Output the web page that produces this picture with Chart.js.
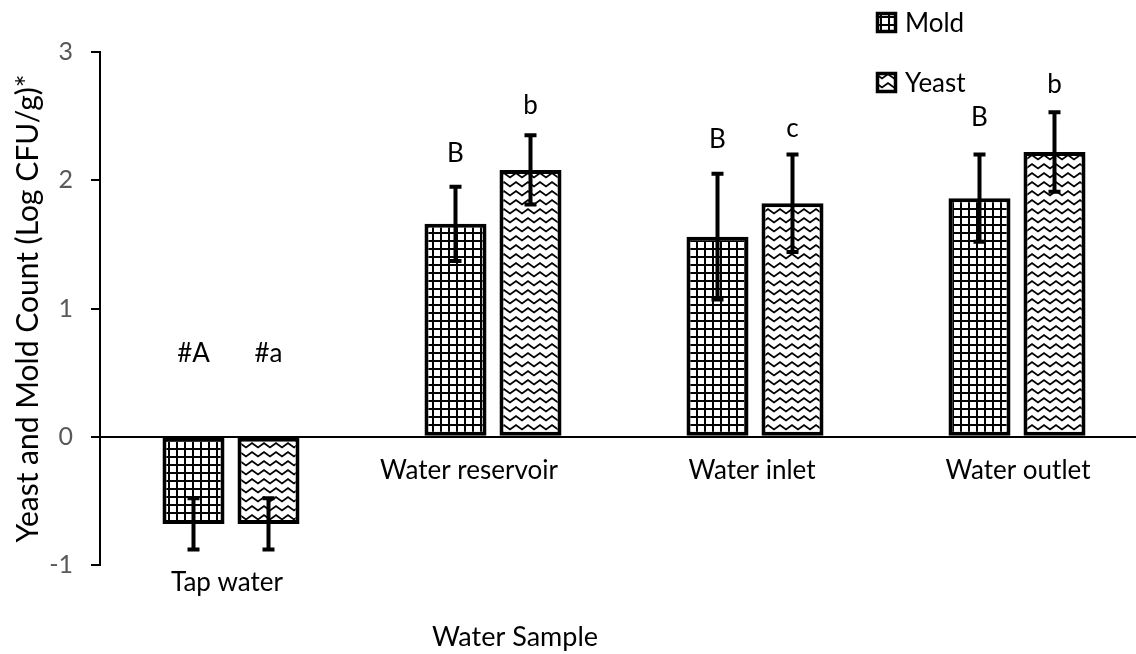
<!DOCTYPE html>
<html><head><meta charset="utf-8">
<script src="https://cdn.jsdelivr.net/npm/chart.js@4/dist/chart.umd.min.js"></script>
<style>html,body{margin:0;padding:0;background:#fff;overflow:hidden;}canvas{display:block;}</style>
</head><body>
<canvas id="c" width="1148" height="654"></canvas>
<script>
// ---- data ----
const categories = ['Tap water', 'Water reservoir', 'Water inlet', 'Water outlet'];
const seriesNames = ['Mold', 'Yeast'];
const moldValues = [-0.68, 1.66, 1.56, 1.86];
const moldErrors = [0.20, 0.29, 0.49, 0.34];
const yeastValues = [-0.68, 2.08, 1.82, 2.22];
const yeastErrors = [0.20, 0.27, 0.38, 0.31];
const moldLetters = ['#A', 'B', 'B', 'B'];
const yeastLetters = ['#a', 'b', 'c', 'b'];
const moldLetterLevels = [0.58, 2.14, 2.25, 2.42];
const yeastLetterLevels = [0.58, 2.52, 2.34, 2.68];
const yTicks = [-1, 0, 1, 2, 3];
const yTitle = 'Yeast and Mold Count (Log CFU/g)*';
const xTitle = 'Water Sample';

const FONT = 'Lato, Carlito, "Liberation Sans", sans-serif';
const canvas = document.getElementById('c');
const ctx = canvas.getContext('2d');

function gridPattern() {
  const c = document.createElement('canvas'); c.width = 8; c.height = 8;
  const g = c.getContext('2d');
  g.fillStyle = '#fff'; g.fillRect(0, 0, 8, 8);
  g.fillStyle = '#000'; g.fillRect(0, 0, 8, 2); g.fillRect(0, 0, 2, 8);
  return ctx.createPattern(c, 'repeat');
}
function wavePattern() {
  const c = document.createElement('canvas'); c.width = 12; c.height = 9;
  const g = c.getContext('2d');
  g.fillStyle = '#fff'; g.fillRect(0, 0, 12, 9);
  g.strokeStyle = '#000'; g.lineWidth = 1.8;
  g.beginPath(); g.moveTo(-1, 1.5); g.lineTo(6, 6.5); g.lineTo(13, 1.5); g.stroke();
  return ctx.createPattern(c, 'repeat');
}
const patterns = [gridPattern(), wavePattern()];
const errors = [moldErrors, yeastErrors];
const letters = [moldLetters, yeastLetters];
const letterLevels = [moldLetterLevels, yeastLetterLevels];

const errorBars = {
  id: 'errorBars',
  afterDatasetsDraw(chart) {
    const c = chart.ctx, ys = chart.scales.y;
    c.save();
    c.strokeStyle = '#000'; c.lineWidth = 4; c.lineCap = 'butt';
    chart.data.datasets.forEach((ds, di) => {
      chart.getDatasetMeta(di).data.forEach((el, i) => {
        const v = ds.data[i], e = errors[di][i];
        const yt = ys.getPixelForValue(v + e), yb = ys.getPixelForValue(v - e);
        c.beginPath();
        c.moveTo(el.x, yt); c.lineTo(el.x, yb);
        c.moveTo(el.x - 6, yt); c.lineTo(el.x + 6, yt);
        c.moveTo(el.x - 6, yb); c.lineTo(el.x + 6, yb);
        c.stroke();
      });
    });
    c.restore();
  }
};

const annotations = {
  id: 'annotations',
  afterDraw(chart) {
    const c = chart.ctx, ys = chart.scales.y, xs = chart.scales.x;
    c.save();
    c.fillStyle = '#000';
    c.textBaseline = 'alphabetic';
    c.font = '26px ' + FONT;
    // significance letters
    c.textAlign = 'center';
    chart.data.datasets.forEach((ds, di) => {
      chart.getDatasetMeta(di).data.forEach((el, i) => {
        c.fillText(letters[di][i], el.x, ys.getPixelForValue(letterLevels[di][i]));
      });
    });
    // category labels
    const labelShift = [-4, -24, -3, 1];
    categories.forEach((cat, i) => {
      const low = Math.min(moldValues[i], yeastValues[i], 0);
      const y = low < 0 ? ys.getPixelForValue(low) + 67 : ys.getPixelForValue(0) + 42;
      c.fillText(cat, xs.getPixelForValue(i) + labelShift[i], y);
    });
    // x axis title
    c.font = '27px ' + FONT;
    c.fillText(xTitle, 515, 646);
    // legend
    c.textAlign = 'left';
    c.font = '26px ' + FONT;
    seriesNames.forEach((name, i) => {
      const base = 32 + i * 60;
      const top = base - 19;
      c.fillStyle = patterns[i];
      c.fillRect(877, top, 19, 19);
      c.strokeStyle = '#000'; c.lineWidth = 3.5;
      c.strokeRect(877.5, top + 0.5, 18, 18);
      c.fillStyle = '#000';
      c.fillText(name, 905, base);
    });
    c.restore();
  }
};

new Chart(ctx, {
  type: 'bar',
  data: {
    labels: categories,
    datasets: [
      { label: seriesNames[0], data: moldValues, backgroundColor: patterns[0], borderColor: '#000', borderWidth: 4, borderSkipped: false },
      { label: seriesNames[1], data: yeastValues, backgroundColor: patterns[1], borderColor: '#000', borderWidth: 4, borderSkipped: false }
    ]
  },
  options: {
    responsive: false,
    animation: false,
    devicePixelRatio: 1,
    categoryPercentage: 0.5725,
    barPercentage: 0.827,
    layout: { padding: { top: 52, bottom: 89, left: 0, right: 0 } },
    plugins: { legend: { display: false }, tooltip: { enabled: false } },
    scales: {
      x: {
        position: { y: 0 },
        offset: true,
        grid: { display: false, drawTicks: false },
        border: { display: true, color: '#000', width: 2 },
        ticks: { display: false }
      },
      y: {
        min: -1, max: 3,
        afterBuildTicks: s => { s.ticks = yTicks.map(v => ({ value: v })); },
        afterFit: s => { s.width = 100; },
        ticks: { color: '#595959', font: { family: FONT, size: 25 }, padding: 18 },
        grid: { display: true, drawOnChartArea: false, drawTicks: true, tickLength: 9, color: '#000', lineWidth: 2 },
        border: { display: true, color: '#000', width: 2 },
        title: { display: true, text: yTitle, color: '#000', font: { family: FONT, size: 30 }, padding: { top: 10, bottom: 0 } }
      }
    }
  },
  plugins: [errorBars, annotations]
});
</script>
</body></html>
